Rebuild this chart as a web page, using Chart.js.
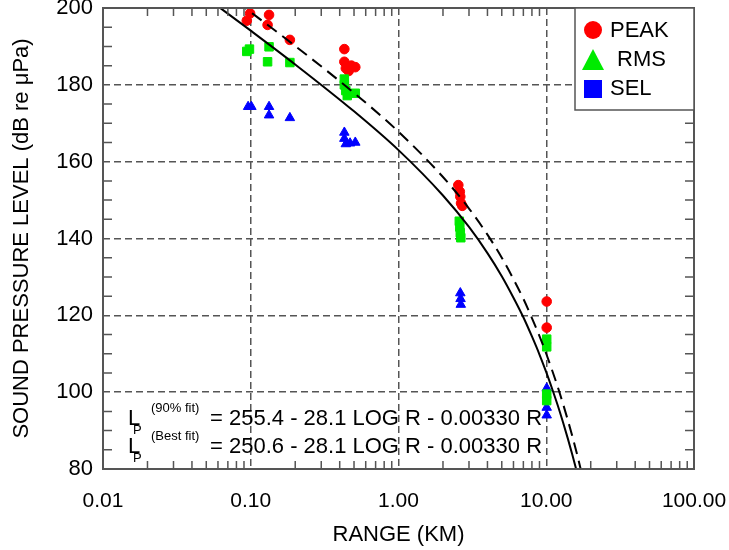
<!DOCTYPE html>
<html>
<head>
<meta charset="utf-8">
<script src="https://cdn.jsdelivr.net/npm/chart.js@4.4.0/dist/chart.umd.min.js"></script>
<style>
  html, body { margin: 0; padding: 0; background: #fff; }
</style>
</head>
<body>
<canvas id="myChart" width="729" height="550"></canvas>
<script>
// Datos (rango en km, nivel en dB re uPa)
const peakRange = [0.099, 0.094, 0.133, 0.130, 0.184, 0.43, 0.43, 0.44, 0.46, 0.48, 0.51, 2.54, 2.60, 2.62, 2.65, 2.70, 10.07, 10.07];
const peakLevel = [198.6, 196.7, 198.2, 195.6, 191.7, 189.3, 186.0, 184.3, 183.6, 185.0, 184.6, 153.9, 152.2, 150.9, 149.2, 148.5, 123.6, 116.8];

const rmsRange = [0.098, 0.094, 0.133, 0.130, 0.184, 0.43, 0.43, 0.44, 0.45, 0.51, 2.58, 2.60, 2.62, 2.64, 10.07, 10.07, 10.07, 10.07];
const rmsLevel = [189.3, 188.7, 189.9, 186.0, 185.8, 181.5, 180.0, 178.5, 177.2, 177.8, 144.5, 143.0, 141.5, 140.2, 113.8, 111.8, 99.5, 97.8];

const selRange = [0.096, 0.101, 0.133, 0.133, 0.184, 0.43, 0.43, 0.44, 0.47, 0.51, 2.62, 2.63, 2.64, 10.07, 10.07, 10.07];
const selLevel = [174.3, 174.3, 174.3, 172.1, 171.4, 167.6, 166.0, 164.6, 164.8, 165.0, 125.8, 124.3, 122.8, 101.0, 96.0, 94.0];

const fitRange = [0.05, 0.1, 0.2, 0.5, 1, 2, 3, 4, 5, 6, 7, 8, 9, 10, 11, 12, 13, 14, 15, 16, 17, 18];
const bestFit = [202.7, 194.1, 185.3, 173.1, 163.0, 151.2, 143.0, 136.2, 130.2, 124.6, 119.5, 114.5, 109.8, 105.2, 100.7, 96.4, 92.1, 87.9, 83.8, 79.7, 75.6, 71.6];
const fit90 = [207.5, 198.9, 190.1, 177.9, 167.8, 156.0, 147.8, 141.0, 135.0, 129.4, 124.3, 119.3, 114.6, 110.0, 105.5, 101.2, 96.9, 92.7, 88.6, 84.5, 80.4, 76.4];

// Ejes
const xDecades = [0.01, 0.1, 1, 10, 100];
const xTickLabels = ['0.01', '0.10', '1.00', '10.00', '100.00'];
const yTickLabels = [80, 100, 120, 140, 160, 180, 200];

const FONT = 'Liberation Sans, Arial, Helvetica, sans-serif';
const GRID = '#555';
const RED = '#ff0000', GREEN = 'rgb(0,235,0)', BLUE = '#0000ff';

function pts(xs, ys) {
    return xs.map((x, i) => ({ x: x, y: ys[i] }));
}

// ticks menores del eje logaritmico: 1..9 por década
const xTickValues = [];
for (let d = 0; d < xDecades.length - 1; d++) {
    for (let m = 1; m <= 9; m++) {
        xTickValues.push(Number((xDecades[d] * m).toPrecision(6)));
    }
}
xTickValues.push(xDecades[xDecades.length - 1]);

function isDecade(v) {
    return xDecades.findIndex(d => Math.abs(d - v) / d < 1e-6);
}

// Marco, ticks interiores, leyenda y ecuaciones
const extras = {
    id: 'extras',
    afterDraw(chart) {
        const ctx = chart.ctx;
        const a = chart.chartArea;
        const xs = chart.scales.x, ys = chart.scales.y;
        ctx.save();

        // ticks hacia dentro
        ctx.strokeStyle = GRID;
        ctx.lineWidth = 1.5;
        ctx.beginPath();
        xs.ticks.forEach(t => {
            if (isDecade(t.value) >= 0) return;
            const px = xs.getPixelForValue(t.value);
            ctx.moveTo(px, a.bottom); ctx.lineTo(px, a.bottom - 8);
            ctx.moveTo(px, a.top); ctx.lineTo(px, a.top + 8);
        });
        ys.ticks.forEach(t => {
            if (t.value % 20 === 0) return;
            const py = ys.getPixelForValue(t.value);
            ctx.moveTo(a.left, py); ctx.lineTo(a.left + 9, py);
            ctx.moveTo(a.right, py); ctx.lineTo(a.right - 9, py);
        });
        ctx.stroke();

        // marco
        ctx.lineWidth = 2;
        ctx.strokeRect(a.left, a.top, a.right - a.left, a.bottom - a.top);

        // leyenda
        const lx = 575, ly = a.top;
        ctx.fillStyle = '#fff';
        ctx.fillRect(lx, ly, a.right - lx, 102);
        ctx.lineWidth = 1.5;
        ctx.strokeRect(lx, ly, a.right - lx, 102);

        ctx.fillStyle = RED;
        ctx.beginPath(); ctx.arc(593, 30, 9, 0, Math.PI * 2); ctx.fill();
        ctx.fillStyle = GREEN;
        ctx.beginPath(); ctx.moveTo(593, 49); ctx.lineTo(604, 70); ctx.lineTo(582, 70); ctx.closePath(); ctx.fill();
        ctx.fillStyle = BLUE;
        ctx.fillRect(584, 80, 18, 18);

        ctx.fillStyle = '#000';
        ctx.font = '22px ' + FONT;
        ctx.textBaseline = 'middle';
        ctx.textAlign = 'left';
        ctx.fillText('PEAK', 610, 31);
        ctx.fillText('RMS', 617, 60);
        ctx.fillText('SEL', 610, 89);

        // ecuaciones de ajuste
        ctx.textBaseline = 'alphabetic';
        const eqs = [
            { sup: '(90% fit)', text: '= 255.4 - 28.1 LOG R - 0.00330 R', base: 425 },
            { sup: '(Best fit)', text: '= 250.6 - 28.1 LOG R - 0.00330 R', base: 453 }
        ];
        eqs.forEach(e => {
            ctx.font = '22px ' + FONT;
            ctx.fillText('L', 128, e.base);
            ctx.fillText(e.text, 210, e.base);
            ctx.font = '13px ' + FONT;
            ctx.fillText('P', 133, e.base + 9);
            ctx.fillText(e.sup, 151, e.base - 13);
        });
        ctx.restore();
    }
};

const ctx = document.getElementById('myChart').getContext('2d');
const myChart = new Chart(ctx, {
    type: 'scatter',
    data: {
        datasets: [
            {
                label: 'Best fit',
                data: pts(fitRange, bestFit),
                showLine: true,
                borderColor: '#000',
                borderWidth: 2,
                pointRadius: 0,
                cubicInterpolationMode: 'monotone',
                order: 0
            },
            {
                label: '90% fit',
                data: pts(fitRange, fit90),
                showLine: true,
                borderColor: '#000',
                borderWidth: 2,
                borderDash: [12, 7],
                pointRadius: 0,
                cubicInterpolationMode: 'monotone',
                order: 0
            },
            {
                label: 'RMS',
                data: pts(rmsRange, rmsLevel),
                pointStyle: 'rect',
                pointRadius: 6,
                backgroundColor: GREEN,
                borderColor: GREEN,
                borderWidth: 1,
                order: 1
            },
            {
                label: 'SEL',
                data: pts(selRange, selLevel),
                pointStyle: 'triangle',
                pointRadius: 5.5,
                backgroundColor: BLUE,
                borderColor: BLUE,
                borderWidth: 1,
                order: 2
            },
            {
                label: 'PEAK',
                data: pts(peakRange, peakLevel),
                pointStyle: 'circle',
                pointRadius: 4.8,
                backgroundColor: RED,
                borderColor: RED,
                borderWidth: 1,
                order: 3
            }
        ]
    },
    options: {
        responsive: false,
        animation: false,
        devicePixelRatio: 1,
        layout: { padding: { left: 0, right: 35, top: 8, bottom: 0 } },
        plugins: {
            legend: { display: false },
            tooltip: { enabled: false }
        },
        scales: {
            x: {
                type: 'logarithmic',
                min: 0.01,
                max: 100,
                afterBuildTicks: function(scale) {
                    scale.ticks = xTickValues.map(v => ({ value: v, major: isDecade(v) >= 0 }));
                },
                afterFit: function(scale) {
                    scale.height = 81;
                    scale.paddingLeft = 0;
                    scale.paddingRight = 0;
                },
                ticks: {
                    autoSkip: false,
                    maxRotation: 0,
                    padding: 20,
                    color: '#000',
                    font: { family: FONT, size: 21 },
                    callback: function(value) {
                        const i = isDecade(value);
                        return i >= 0 ? xTickLabels[i] : '';
                    }
                },
                grid: {
                    drawTicks: false,
                    lineWidth: 1.5,
                    color: c => (c.tick && isDecade(c.tick.value) >= 0) ? GRID : 'rgba(0,0,0,0)'
                },
                border: { display: false, dash: [7, 4] },
                title: {
                    display: true,
                    text: 'RANGE (KM)',
                    color: '#000',
                    font: { family: FONT, size: 22 },
                    padding: { top: 0, bottom: 2 }
                }
            },
            y: {
                min: 80,
                max: 200,
                afterFit: function(scale) {
                    scale.width = 103;
                    scale.paddingTop = 0;
                    scale.paddingBottom = 0;
                },
                ticks: {
                    stepSize: 5,
                    autoSkip: false,
                    padding: 10,
                    color: '#000',
                    font: { family: FONT, size: 22 },
                    callback: function(value) {
                        return yTickLabels.indexOf(value) >= 0 ? String(value) : '';
                    }
                },
                grid: {
                    drawTicks: false,
                    lineWidth: 1.5,
                    color: c => (c.tick && c.tick.value % 20 === 0) ? GRID : 'rgba(0,0,0,0)'
                },
                border: { display: false, dash: [7, 4] },
                title: {
                    display: true,
                    text: 'SOUND PRESSURE LEVEL (dB re \u03BCPa)',
                    color: '#000',
                    font: { family: FONT, size: 22 },
                    padding: { top: 9, bottom: 0 }
                }
            }
        }
    },
    plugins: [extras]
});
</script>
</body>
</html>
